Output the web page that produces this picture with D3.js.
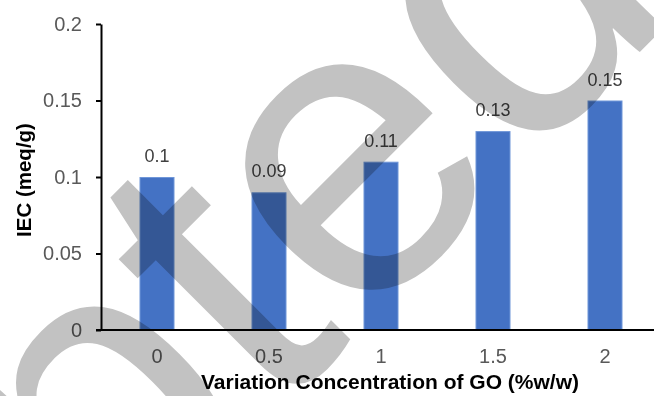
<!DOCTYPE html>
<html>
<head>
<meta charset="utf-8">
<script src="https://cdn.jsdelivr.net/npm/d3@7"></script>
<style>
  html, body { margin: 0; padding: 0; background: #fff; }
  svg { display: block; font-family: "Liberation Sans", Arial, sans-serif; }
  .wm { mix-blend-mode: multiply; }
</style>
</head>
<body>
<svg id="chart" width="654" height="396"></svg>
<script>
// GO loading (%w/w) and measured ion exchange capacity
const categories = ["0", "0.5", "1", "1.5", "2"];
const iecValues = [0.1, 0.09, 0.11, 0.13, 0.15];
const yTickValues = [0, 0.05, 0.1, 0.15, 0.2];
const yTickLabels = ["0", "0.05", "0.1", "0.15", "0.2"];
const dataLabels = ["0.1", "0.09", "0.11", "0.13", "0.15"];

const W = 654, H = 396;
const plotLeft = 101, plotRight = 661, plotTop = 24, plotBottom = 330;

const svg = d3.select("#chart");

const x = d3.scaleBand()
  .domain(categories)
  .range([plotLeft, plotRight])
  .paddingInner(0.6875)
  .paddingOuter(0.34375);

const y = d3.scaleLinear().domain([0, 0.2]).range([plotBottom, plotTop]);

// bars
svg.append("g").selectAll("rect")
  .data(iecValues)
  .join("rect")
  .attr("x", (d, i) => x(categories[i]) + 0.5)
  .attr("y", d => y(d) + 0.5)
  .attr("width", x.bandwidth() - 1)
  .attr("height", d => y(0) - y(d) - 0.5)
  .attr("fill", "#4472C4")
  .attr("stroke", "#6f96d8")
  .attr("stroke-width", 1);

// value labels
svg.append("g").selectAll("text")
  .data(iecValues)
  .join("text")
  .attr("x", (d, i) => x(categories[i]) + x.bandwidth() / 2)
  .attr("y", d => y(d) - 15)
  .attr("text-anchor", "middle")
  .attr("font-size", 18)
  .attr("fill", "#404040")
  .text((d, i) => dataLabels[i]);

// y axis
const yAxis = d3.axisLeft(y)
  .tickValues(yTickValues)
  .tickFormat((d, i) => yTickLabels[i])
  .tickSize(5)
  .tickSizeOuter(0)
  .tickPadding(14);
const gy = svg.append("g").attr("transform", `translate(${plotLeft},0)`).call(yAxis);
gy.select(".domain").attr("stroke", "#000").attr("stroke-width", 2);
gy.selectAll(".tick line").attr("stroke", "#000").attr("stroke-width", 2);
gy.selectAll(".tick text").attr("font-size", 20).attr("fill", "#595959")
  .attr("font-family", "Liberation Sans, Arial, sans-serif");

// x axis
const xAxis = d3.axisBottom(x).tickSize(0).tickPadding(19);
const gx = svg.append("g").attr("transform", `translate(0,${plotBottom})`).call(xAxis);
gx.select(".domain").attr("stroke", "#000").attr("stroke-width", 2)
  .attr("d", `M${plotLeft - 5},0H${W}`);
gx.selectAll(".tick text").attr("font-size", 20).attr("fill", "#595959")
  .attr("font-family", "Liberation Sans, Arial, sans-serif");

// axis titles
svg.append("text")
  .attr("x", 390).attr("y", 389)
  .attr("text-anchor", "middle")
  .attr("font-size", 21).attr("font-weight", "bold").attr("fill", "#000")
  .text("Variation Concentration of GO (%w/w)");

svg.append("text")
  .attr("transform", "translate(31,180) rotate(-90)")
  .attr("text-anchor", "middle")
  .attr("font-size", 20.5).attr("font-weight", "bold").attr("fill", "#000")
  .text("IEC (meq/g)");

// diagonal watermark, anchored on the centre of its second "e"
const wmSize = 420, wmAngle = -45;
svg.append("text")
  .attr("class", "wm")
  .attr("transform", `translate(358,180) rotate(${wmAngle})`)
  .attr("x", -3.331 * wmSize)
  .attr("y", 0.259 * wmSize)
  .attr("font-size", wmSize)
  .attr("fill", "#c2c2c2")
  .text("Accepted");
</script>
</body>
</html>
